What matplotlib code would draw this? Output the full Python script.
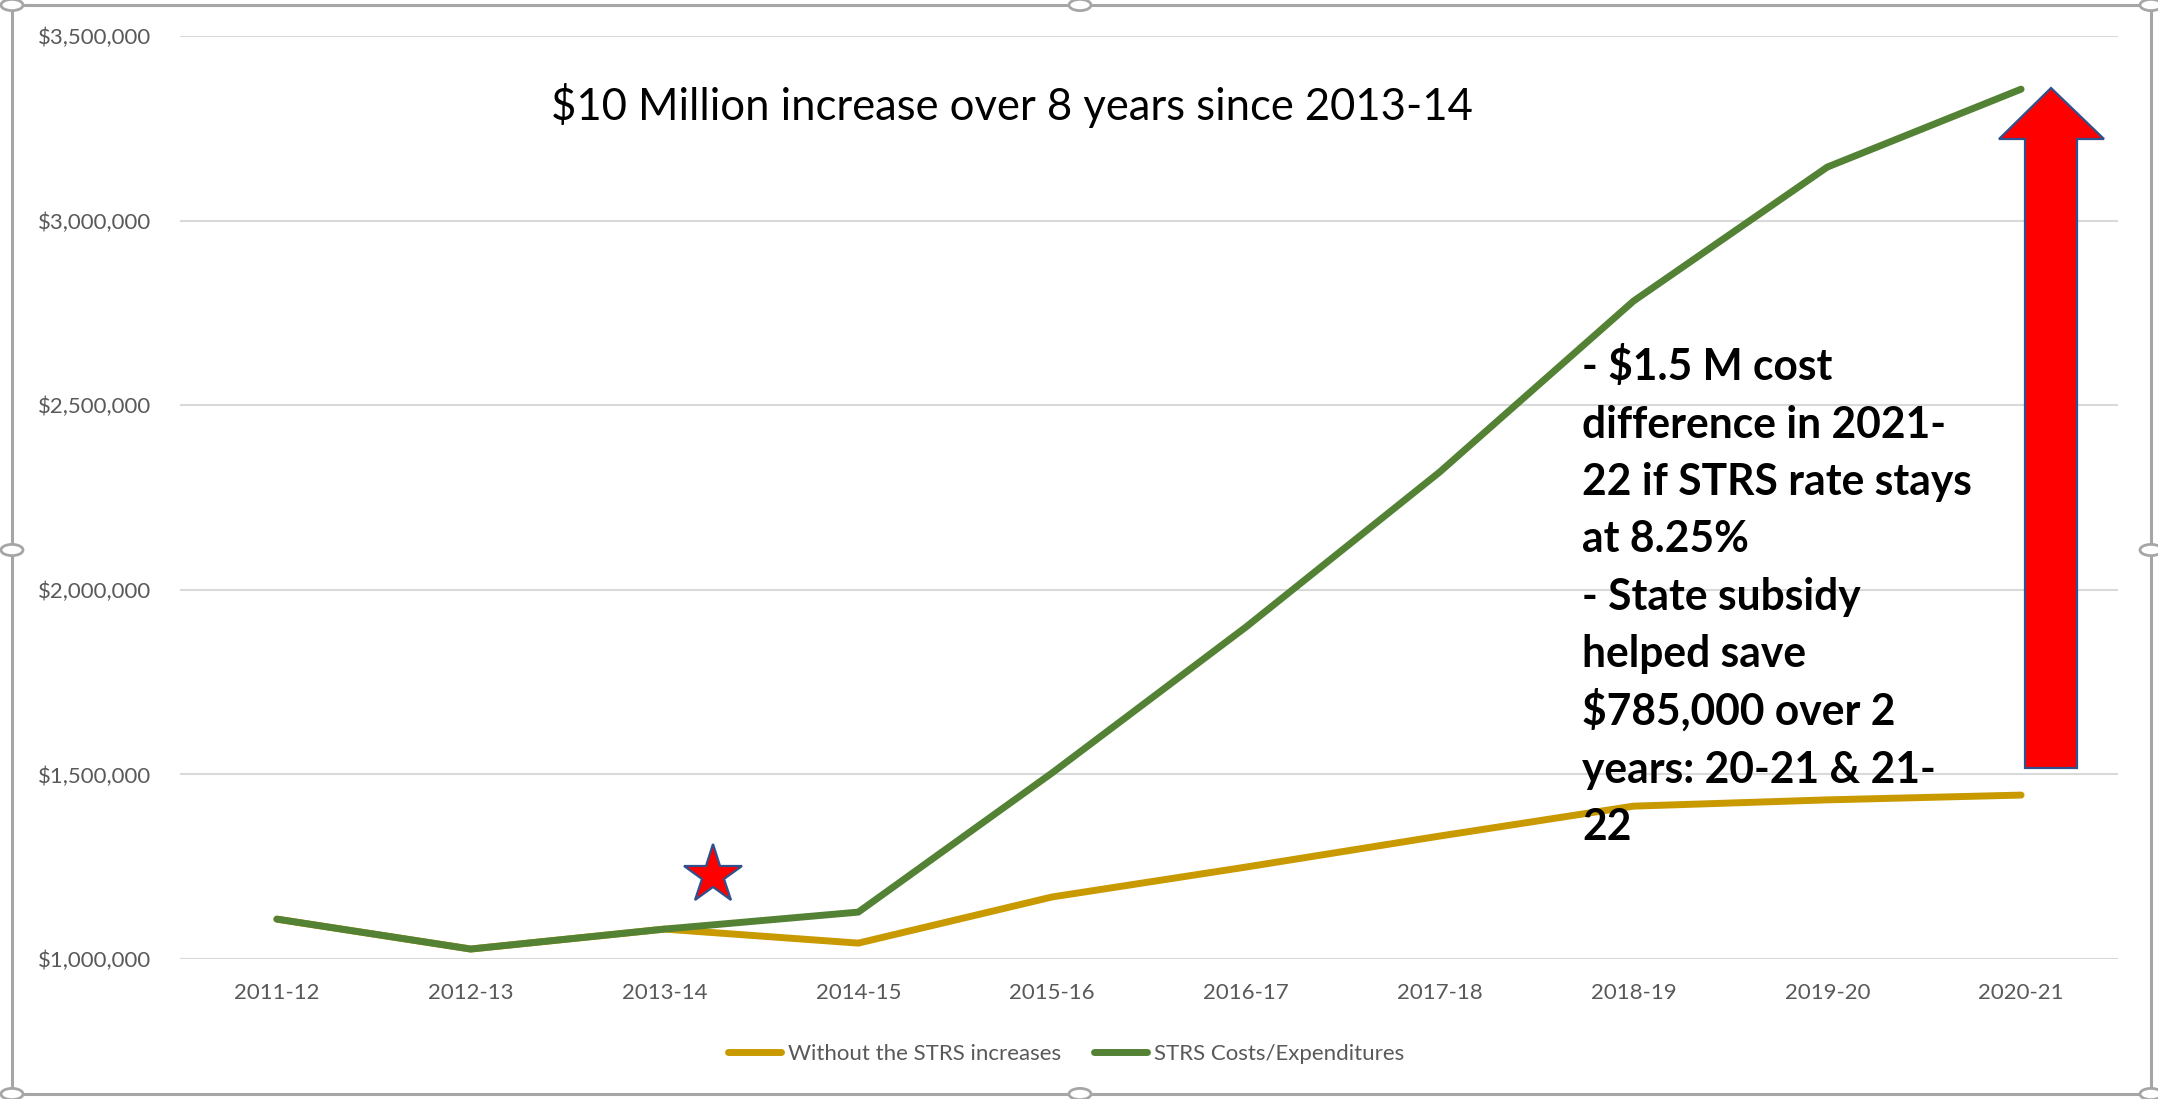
import matplotlib
matplotlib.use("Agg")
import matplotlib.pyplot as plt
from matplotlib.patches import Polygon, Circle, Rectangle
from matplotlib.ticker import FuncFormatter

# ---------------- data ----------------
categories = ['2011-12', '2012-13', '2013-14', '2014-15', '2015-16',
              '2016-17', '2017-18', '2018-19', '2019-20', '2020-21']
without_increase = [1108000, 1027000, 1081000, 1043000, 1168000,
                    1249000, 1333000, 1414000, 1431000, 1444000]
strs_costs = [1108000, 1027000, 1081000, 1127000, 1504000,
              1899000, 2319000, 2782000, 3145000, 3356000]
series_names = ['Without the STRS increases', 'STRS Costs/Expenditures']
y_ticks = [1000000, 1500000, 2000000, 2500000, 3000000, 3500000]
title_text = '$10 Million increase over 8 years since 2013-14'
note_lines = ['- $1.5 M cost', 'difference in 2021-', '22 if STRS rate stays',
              'at 8.25%', '- State subsidy', 'helped save',
              '$785,000 over 2', 'years: 20-21 & 21-', '22']

# ---------------- layout ----------------
W, H = 2158, 1099
DPI = 100
fig = plt.figure(figsize=(W / DPI, H / DPI), dpi=DPI)
FONT = 'Lato'
plt.rcParams['font.family'] = [FONT, 'DejaVu Sans']

def fx(x):
    return x / W

def fy(y):
    return 1 - y / H

ax_left, ax_right, ax_top, ax_bottom = 180, 2118, 36, 959
ax = fig.add_axes([fx(ax_left), fy(ax_bottom), (ax_right - ax_left) / W,
                   (ax_bottom - ax_top) / H])

orange = '#C99A00'
green = '#548235'
grid_c = '#D9D9D9'
txt_c = '#595959'

x = list(range(len(categories)))
ax.plot(x, without_increase, color=orange, lw=5, solid_capstyle='round',
        solid_joinstyle='round', label=series_names[0], zorder=3)
ax.plot(x, strs_costs, color=green, lw=5, solid_capstyle='round',
        solid_joinstyle='round', label=series_names[1], zorder=4)

ax.set_xlim(-0.5, len(categories) - 0.5)
ax.set_ylim(y_ticks[0], y_ticks[-1])
ax.set_yticks(y_ticks)
ax.yaxis.set_major_formatter(FuncFormatter(lambda v, p: '${:,.0f}'.format(v)))
ax.set_xticks(x)
ax.set_xticklabels(categories)
for s in ax.spines.values():
    s.set_visible(False)
ax.grid(axis='y', color=grid_c, lw=1.5, zorder=0)
ax.tick_params(axis='both', length=0, labelsize=16, labelcolor=txt_c)
ax.tick_params(axis='y', pad=21)
ax.tick_params(axis='x', pad=17)
ax.set_facecolor('none')

# legend
leg = fig.legend(loc='center', bbox_to_anchor=(fx(1066), fy(1054)), ncol=2,
                 frameon=False, fontsize=16, handlelength=2.4,
                 handletextpad=0.3, columnspacing=1.5, labelcolor=txt_c)

# star decoration
ax.plot([2.25], [1227000], marker='*', ms=44, mfc='#FF0000', mec='#2F528F',
        mew=1.6, zorder=6, clip_on=False)

# title text fitted to width
renderer = fig.canvas.get_renderer()

def fit(t, width_px):
    fs = t.get_fontsize()
    for _ in range(3):
        bb = t.get_window_extent(renderer=renderer)
        fs = fs * width_px / bb.width
        t.set_fontsize(fs)
    return fs

tt = fig.text(fx(551), fy(120), title_text, ha='left', va='baseline',
              fontsize=28, color='black', family=[FONT, 'DejaVu Sans'])
fit(tt, 1473 - 551)

# note text
probe = fig.text(0, 0, note_lines[2], fontsize=28, fontweight='bold',
                 family=[FONT, 'DejaVu Sans'])
nfs = fit(probe, 1972 - 1582)
probe.remove()
for k, line in enumerate(note_lines):
    fig.text(fx(1582), fy(380 + k * 57.5), line, ha='left', va='baseline',
             fontsize=nfs, fontweight='bold', color='black',
             family=[FONT, 'DejaVu Sans'], zorder=7)

# red block arrow
arrow_pts = [(2025, 768), (2025, 139), (1999, 139), (2051, 88),
             (2104, 139), (2077, 139), (2077, 768)]
arrow = Polygon([(fx(a), fy(b)) for a, b in arrow_pts], closed=True,
                transform=fig.transFigure, facecolor='#FF0000',
                edgecolor='#2F528F', lw=1.6, zorder=8)
fig.patches.append(arrow)

# chart frame with selection handles
frame_c = '#A6A6A6'
L, T, R, B = 12, 5, 2151, 1094
frame = Rectangle((fx(L), fy(B)), (R - L) / W, (B - T) / H,
                  transform=fig.transFigure, fill=False, edgecolor=frame_c,
                  lw=2.2, zorder=9)
fig.patches.append(frame)
mx, my = 1080, 550
for (hx, hy) in [(L, T), (R, T), (L, B), (R, B), (mx, T), (mx, B), (L, my), (R, my)]:
    c = Circle((hx, H - hy), 11, transform=None, facecolor='white',
               edgecolor=frame_c, lw=2.0, zorder=10)
    # convert pixel coordinates to figure coordinates
    c = Circle((fx(hx), fy(hy)), 11 / W, transform=fig.transFigure,
               facecolor='white', edgecolor=frame_c, lw=2.0, zorder=10)
    fig.patches.append(c)

fig.savefig('out.png', dpi=DPI, facecolor='white')
